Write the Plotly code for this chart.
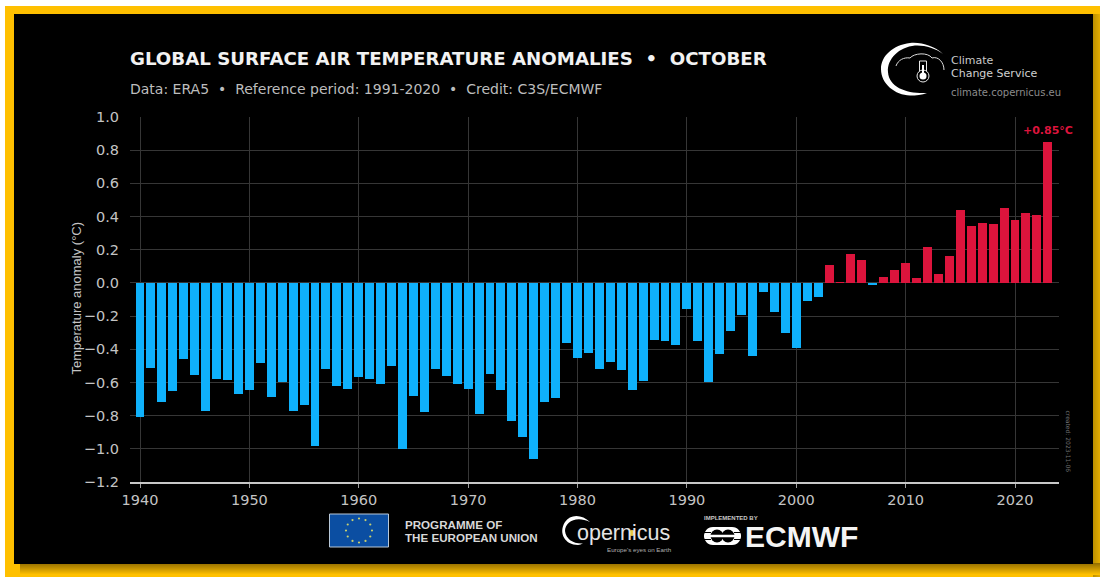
import math
import plotly.graph_objects as go

W, H = 1100, 577
L, R, T, B = 130, 1059, 117, 482

years = list(range(1940, 2024))
anomalies = [
    -0.81, -0.51, -0.72, -0.65, -0.46, -0.557, -0.775, -0.58, -0.585, -0.667,
    -0.645, -0.48, -0.69, -0.60, -0.77, -0.737, -0.985, -0.52, -0.62, -0.637,
    -0.57, -0.58, -0.607, -0.503, -1.0, -0.68, -0.78, -0.52, -0.56, -0.61,
    -0.64, -0.79, -0.55, -0.643, -0.83, -0.926, -1.06, -0.715, -0.695, -0.365,
    -0.455, -0.42, -0.52, -0.475, -0.523, -0.645, -0.593, -0.347, -0.35, -0.375,
    -0.158, -0.349, -0.60, -0.43, -0.29, -0.194, -0.44, -0.052, -0.178, -0.30,
    -0.395, -0.106, -0.084, 0.105, 0.005, 0.173, 0.139, -0.015, 0.038, 0.08,
    0.118, 0.03, 0.219, 0.052, 0.165, 0.442, 0.341, 0.36, 0.355, 0.454,
    0.378, 0.42, 0.41, 0.85,
]
x_ticks = [1940, 1950, 1960, 1970, 1980, 1990, 2000, 2010, 2020]
y_ticks = [1.0, 0.8, 0.6, 0.4, 0.2, 0.0, -0.2, -0.4, -0.6, -0.8, -1.0, -1.2]

BLUE, RED = "#0FB1FB", "#DC143C"
GOLD = "#FFC000"
GRID = "#363636"
TXT = "#C4C4C4"
FONT = "DejaVu Sans"
SANS = "Liberation Sans"


def px(x):
    return (x - L) / (R - L)


def py(y):
    return (B - y) / (B - T)


def rect(x0, y0, x1, y1, color, layer="above"):
    return dict(type="rect", xref="paper", yref="paper", x0=px(x0), x1=px(x1), y0=py(y0), y1=py(y1),
                fillcolor=color, line=dict(width=0, color=color), layer=layer)


def path(pts, fill=None, stroke=None, width=1):
    parts = []
    for p in pts:
        out = [f"{px(v) if i % 2 == 0 else py(v):.5f}" for i, v in enumerate(p[1:])]
        parts.append(p[0] + " " + " ".join(out))
    return dict(type="path", xref="paper", yref="paper", path=" ".join(parts) + (" Z" if fill else ""),
                fillcolor=fill or "rgba(0,0,0,0)",
                line=dict(color=stroke or "rgba(0,0,0,0)", width=width if stroke else 0), layer="above")


def circle(cx, cy, r, fill=None, stroke=None, width=1):
    return dict(type="circle", xref="paper", yref="paper", x0=px(cx - r), x1=px(cx + r), y0=py(cy + r), y1=py(cy - r),
                fillcolor=fill or "rgba(0,0,0,0)",
                line=dict(color=stroke or "rgba(0,0,0,0)", width=width if stroke else 0), layer="above")


def text(x, y, s, size, color=TXT, family=FONT, anchor="left", angle=0):
    return dict(xref="paper", yref="paper", x=px(x), y=py(y), text=s, showarrow=False, xanchor=anchor,
                yanchor="middle", textangle=angle, borderpad=0, borderwidth=0,
                font=dict(size=size, color=color, family=family))


def mix(c0, c1, t):
    return "rgb(%d,%d,%d)" % tuple(round(a + (b - a) * t) for a, b in zip(c0, c1))


shapes = [rect(5, 6, 1100, 577, GOLD, layer="below")]
dark, light = (150, 112, 0), (255, 192, 0)
for i in range(7):
    shapes.append(rect(1093 + i, 14, 1094 + i, 577, mix((190, 145, 0), (225, 170, 0), i / 6), layer="below"))
for i in range(12):
    shapes.append(rect(20, 563 + i, 1100, 564 + i, mix(dark, light, i / 11), layer="below"))
shapes.append(rect(14, 14, 1093, 564, "#000000", layer="below"))

# Climate Change Service logo
shapes.append(path([("M", 943, 54), ("C", 934, 46, 922, 42, 910, 43), ("C", 893, 45, 881, 56, 881, 69),
                    ("C", 881, 84, 895, 95, 910, 95.5), ("C", 916, 95.5, 922, 95, 927, 93),
                    ("C", 908, 94, 889, 88, 888, 72), ("C", 887, 59, 899, 47, 915, 45.5),
                    ("C", 925, 45, 935, 48, 943, 54)], fill="#FFFFFF"))
shapes.append(path([("M", 896, 66), ("C", 898, 60, 904, 57, 910, 58), ("C", 914, 53, 928, 52, 932, 58),
                    ("C", 938, 56, 944, 62, 944, 70)], stroke="#DCDCDC", width=1))
shapes.append(dict(type="rect", xref="paper", yref="paper", x0=px(919.5), x1=px(926.5), y0=py(76), y1=py(61),
                   fillcolor="#000000", line=dict(color="#E8E8E8", width=1), layer="above"))
shapes.append(circle(923, 76, 6, fill="#000000", stroke="#E8E8E8", width=1))
shapes.append(circle(923, 76, 3.5, fill="#FFFFFF"))
shapes.append(rect(922, 65, 924, 76, "#FFFFFF"))

# EU flag
shapes.append(dict(type="rect", xref="paper", yref="paper", x0=px(329.5), x1=px(388.5), y0=py(547), y1=py(514),
                   fillcolor="#0B4EA2", line=dict(color="#B8C8D8", width=1), layer="above"))
for k in range(12):
    a = math.radians(30 * k)
    shapes.append(circle(359 + 13 * math.cos(a), 530.5 + 12 * math.sin(a), 1.1, fill="#C8D070"))

# Copernicus C and dot
shapes.append(path([("M", 590, 522), ("C", 582, 514, 570, 514, 565, 522), ("C", 558, 533, 565, 545, 578, 545),
                    ("C", 580, 545, 581, 544, 583, 543.5), ("C", 573, 544, 566, 539, 565, 531),
                    ("C", 565, 522, 576, 515, 590, 522)], fill="#FFFFFF"))
shapes_dot = circle(632, 533, 3, fill="#E8C840")

# ECMWF emblem
shapes.append(path([("M", 713, 527), ("L", 732, 527), ("C", 738, 527, 741, 532, 741, 536),
                    ("C", 741, 540, 738, 545, 732, 545), ("L", 713, 545),
                    ("C", 707, 545, 704, 540, 704, 536), ("C", 704, 532, 707, 527, 713, 527)], fill="#FFFFFF"))
shapes.append(circle(717, 536, 6.5, fill="#000000"))
shapes.append(circle(728, 536, 6.5, fill="#000000"))
shapes.append(rect(704, 534.7, 741, 537.3, "#FFFFFF"))
shapes.append(rect(704, 532, 711, 533, "#000000"))
shapes.append(rect(704, 539, 711, 540, "#000000"))
shapes.append(rect(734, 532, 741, 533, "#000000"))
shapes.append(rect(734, 539, 741, 540, "#000000"))

annotations = [
    text(130, 59, "<b>GLOBAL SURFACE AIR TEMPERATURE ANOMALIES  •  OCTOBER</b>", 18.2, "#F2F2F2"),
    text(130, 89.5, "Data: ERA5  •  Reference period: 1991-2020  •  Credit: C3S/ECMWF", 14, "#BDBDBD"),
    text(951, 60.5, "Climate", 11, "#C8C8C8"),
    text(951, 73.7, "Change Service", 11, "#D0D0D0"),
    text(951, 92.5, "climate.copernicus.eu", 10, "#8C8C8C"),
    text(1073, 130, "<b>+0.85°C</b>", 11, RED, anchor="right"),
    text(68, 298, "Temperature anomaly (°C)", 13, TXT, family=SANS, angle=-90),
    text(1065, 441, "created: 2023-11-06", 6, "#707070", angle=90),
    text(405, 524, "<b>PROGRAMME OF</b>", 11.6, "#D8D8D8", family=SANS),
    text(405, 537.5, "<b>THE EUROPEAN UNION</b>", 11.6, "#D8D8D8", family=SANS),
    text(577, 533, "opernicus", 21.5, "#E4E4E4", family=SANS),
    text(607, 549.5, "Europe's eyes on Earth", 6.2, "#B0B0B0", family=SANS),
    text(704, 517.5, "<b>IMPLEMENTED BY</b>", 6, "#C8C8C8", family=SANS),
    text(745, 536, "<b>ECMWF</b>", 30, "#F4F4F4", family=SANS),
]
shapes.append(shapes_dot)

fig = go.Figure(go.Bar(
    x=years, y=anomalies, width=0.82,
    marker=dict(color=[RED if v > 0 else BLUE for v in anomalies], line=dict(width=0)),
    hoverinfo="skip",
))

per_year = (1015 - 140) / 80
fig.update_layout(
    width=W, height=H, autosize=False,
    margin=dict(l=L, r=W - R, t=T, b=H - B, pad=0),
    paper_bgcolor="#FFFFFF", plot_bgcolor="rgba(0,0,0,0)",
    showlegend=False, shapes=shapes, annotations=annotations, bargap=0,
    xaxis=dict(
        range=[1940 - (140 - L) / per_year, 1940 + (R - 140) / per_year],
        tickmode="array", tickvals=x_ticks, ticktext=[str(v) for v in x_ticks],
        showgrid=True, gridcolor=GRID, gridwidth=1.4, zeroline=False,
        showline=True, linecolor="#C8C8C8", linewidth=2,
        ticks="outside", ticklen=4, tickcolor="#A0A0A0", tickwidth=1,
        tickfont=dict(family=FONT, size=14.5, color=TXT),
    ),
    yaxis=dict(
        range=[-1.2, 1.0],
        tickmode="array", tickvals=y_ticks, tickformat=".1f",
        showgrid=True, gridcolor=GRID, gridwidth=1.4, zeroline=False, showline=False,
        ticks="", ticklabelstandoff=10,
        tickfont=dict(family=FONT, size=14.5, color=TXT),
    ),
)

fig.write_html("out.html", config=dict(displayModeBar=False),
               post_script="document.body.style.margin='0';document.documentElement.style.overflow='hidden';")
